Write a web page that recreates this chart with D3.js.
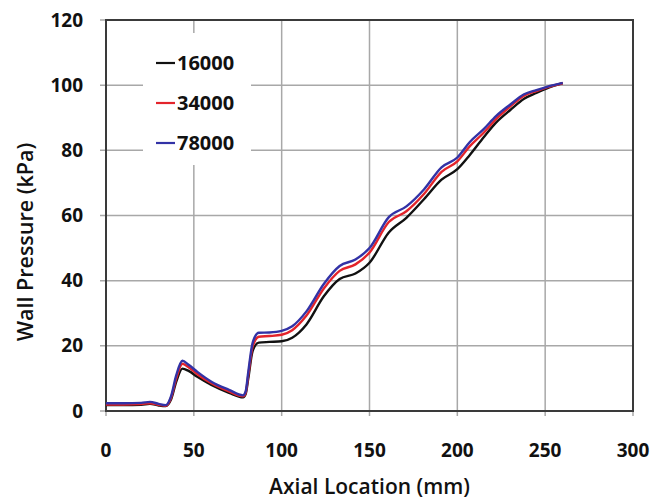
<!DOCTYPE html>
<html>
<head>
<meta charset="utf-8">
<script src="https://cdn.jsdelivr.net/npm/d3@7"></script>
<style>
  body { margin: 0; background: #fff; }
  svg { display: block; font-family: "Open Sans", sans-serif; }
</style>
</head>
<body>
<svg id="chart" width="666" height="501"></svg>
<script>
const width = 666;
const height = 501;
const margin = { top: 20, left: 106, bottom: 90, right: 33 };

// axial location (mm)
const xs = [0, 10, 20, 25, 30, 34, 37, 40, 43.5, 47, 52, 60, 70, 78, 79.5, 81, 83.5, 87, 93, 100,
  106, 114, 124, 133, 142, 150, 161, 171, 181, 191, 200, 207, 215, 222, 230, 238, 245, 251, 260];

// wall pressure (kPa) per Reynolds number
const p16000 = [1.8, 1.8, 1.9, 2.2, 1.7, 1.5, 3.5, 9, 13.0, 12.3, 10.5, 8.0, 5.6, 4.2, 5.2, 10, 18.5, 21.0, 21.2, 21.4,
  22.5, 26.5, 35.2, 40.5, 42.2, 45.5, 54.8, 59.3, 65.0, 71.0, 74.2, 78.5, 84.0, 88.5, 92.3, 95.8, 97.6, 99.0, 100.6];
const p34000 = [2.0, 2.0, 2.1, 2.4, 1.9, 1.6, 4.0, 10, 14.5, 13.4, 11.3, 8.5, 6.0, 4.5, 5.6, 11, 19.8, 22.8, 23.0, 23.4,
  24.8, 29.2, 37.6, 43.0, 45.0, 48.6, 58.0, 61.3, 66.6, 73.4, 76.6, 81.2, 85.4, 89.6, 93.4, 96.8, 98.2, 99.3, 100.6];
const p78000 = [2.4, 2.4, 2.5, 2.8, 2.2, 1.8, 4.5, 11, 15.4, 14.2, 12.0, 9.0, 6.5, 4.8, 6, 12, 21.0, 24.0, 24.1, 24.6,
  26.0, 30.5, 39.0, 44.5, 46.5, 50.0, 59.5, 62.8, 68.0, 74.8, 77.8, 82.5, 86.5, 90.5, 94.0, 97.2, 98.5, 99.5, 100.7];

const seriesNames = ["16000", "34000", "78000"];
const seriesColors = ["#111111", "#e3242b", "#3232a6"];
const xTicks = [0, 50, 100, 150, 200, 250, 300];
const yTicks = [0, 20, 40, 60, 80, 100, 120];

const series = [p16000, p34000, p78000].map((vals, i) => ({
  name: seriesNames[i],
  color: seriesColors[i],
  points: xs.map((x, j) => ({ x: x, y: vals[j] }))
}));

const svg = d3.select("#chart");

const x = d3.scaleLinear().domain([0, 300]).range([margin.left, width - margin.right]);
const y = d3.scaleLinear().domain([0, 120]).range([height - margin.bottom, margin.top]);

// gridlines
svg.append("g")
  .selectAll("line")
  .data(xTicks)
  .join("line")
  .attr("x1", d => x(d)).attr("x2", d => x(d))
  .attr("y1", y(0) + 5).attr("y2", y(120))
  .attr("stroke", "#a8a8a8").attr("stroke-width", 1.5);

svg.append("g")
  .selectAll("line")
  .data(yTicks)
  .join("line")
  .attr("x1", x(0) - 6).attr("x2", x(300))
  .attr("y1", d => y(d)).attr("y2", d => y(d))
  .attr("stroke", "#a8a8a8").attr("stroke-width", 1.5);

// legend box (white, hides gridlines)
svg.append("rect")
  .attr("x", 143).attr("y", 33)
  .attr("width", 108).attr("height", 132)
  .attr("fill", "#fff");

// frame
svg.append("rect")
  .attr("x", x(0)).attr("y", y(120))
  .attr("width", x(300) - x(0)).attr("height", y(0) - y(120))
  .attr("fill", "none")
  .attr("stroke", "#3a3a3a").attr("stroke-width", 2);

// lines
const line = d3.line()
  .x(d => x(d.x))
  .y(d => y(d.y))
  .curve(d3.curveMonotoneX);

svg.append("g")
  .selectAll("path")
  .data(series)
  .join("path")
  .attr("d", d => line(d.points))
  .attr("fill", "none")
  .attr("stroke", d => d.color)
  .attr("stroke-width", 2.4)
  .attr("stroke-linejoin", "round");

// tick labels
svg.append("g")
  .selectAll("text")
  .data(yTicks)
  .join("text")
  .attr("x", 83)
  .attr("y", d => y(d) + 6.5)
  .attr("text-anchor", "end")
  .attr("font-size", 19)
  .attr("font-weight", 700)
  .attr("fill", "#111")
  .text(d => d);

svg.append("g")
  .selectAll("text")
  .data(xTicks)
  .join("text")
  .attr("x", d => x(d))
  .attr("y", 457)
  .attr("text-anchor", "middle")
  .attr("font-size", 19)
  .attr("font-weight", 700)
  .attr("fill", "#111")
  .text(d => d);

// legend
const legend = svg.append("g")
  .selectAll("g")
  .data(series)
  .join("g")
  .attr("transform", (d, i) => `translate(156, ${63 + i * 40})`);

legend.append("line")
  .attr("x1", 0).attr("x2", 19)
  .attr("stroke", d => d.color)
  .attr("stroke-width", 2.2);

legend.append("text")
  .attr("x", 21)
  .attr("y", 7)
  .attr("font-size", 20)
  .attr("font-weight", 700)
  .attr("fill", "#111")
  .text(d => d.name);

// axis titles
svg.append("text")
  .attr("x", (x(0) + x(300)) / 2)
  .attr("y", 494)
  .attr("text-anchor", "middle")
  .attr("font-size", 21)
  .attr("font-weight", 600)
  .attr("fill", "#111")
  .text("Axial Location (mm)");

svg.append("text")
  .attr("transform", "translate(33, 242) rotate(-90)")
  .attr("text-anchor", "middle")
  .attr("font-size", 21.5)
  .attr("font-weight", 600)
  .attr("fill", "#111")
  .text("Wall Pressure (kPa)");
</script>
</body>
</html>
